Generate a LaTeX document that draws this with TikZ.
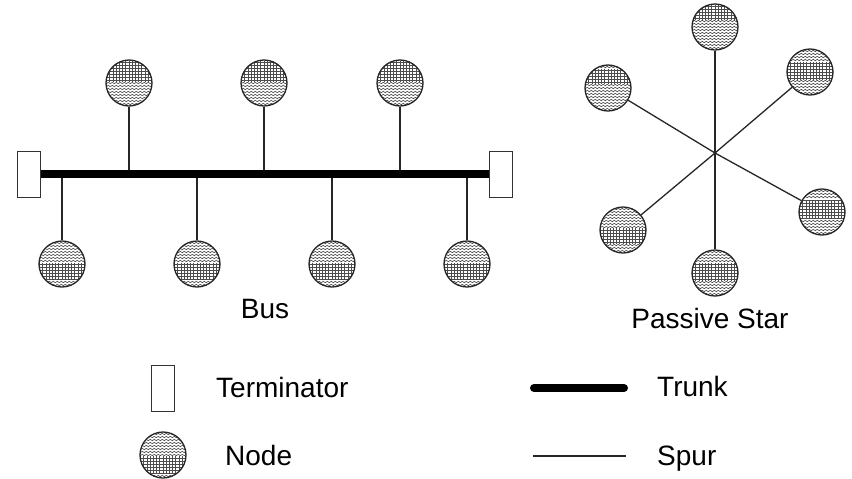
\documentclass[tikz,border=0pt]{standalone}
\usepackage{fontspec}
\setmainfont{Liberation Sans}
\usetikzlibrary{decorations.pathmorphing}
\begin{document}
\begin{tikzpicture}[x=1pt,y=-1pt,
  texture/.style={line width=0.65pt, draw=black!70},
  wave/.style={texture, decorate, decoration={snake, segment length=4pt, amplitude=0.7pt}},
  % a station: #1 and #2 bound the band that carries the dotted grid
  station/.style 2 args={circle, draw=black!85, line width=1.3pt,
    minimum size=46pt, inner sep=0pt, fill=white,
    path picture={
      \begin{scope}[shift={(path picture bounding box.center)}]
        \foreach \k in {-7,...,7}{
          \pgfmathsetmacro\yy{\k*3}
          \ifdim\yy pt<#1pt \draw[wave] (-26,\yy) -- (26,\yy);
          \else\ifdim\yy pt>#2pt \draw[wave] (-26,\yy) -- (26,\yy);
          \else \draw[texture] (-26,\yy) -- (26,\yy); \fi\fi }
        \foreach \k in {-7,...,7}
          \draw[texture] (\k*3.2,#1) -- (\k*3.2,#2);
      \end{scope}}},
  terminator/.style={draw=black!80, line width=1pt, minimum width=23pt,
    minimum height=46pt, inner sep=0pt, fill=white},
  trunk/.style={line width=8pt, draw=black},
  spur/.style={line width=1.3pt, draw=black!85},
  label/.style={font=\fontsize{28}{32}\selectfont, inner sep=0pt}
]
\useasboundingbox (0,0) rectangle (852,479);

% ---------- bus ----------
\node[terminator] (tl) at (28.5,174) {};
\node[terminator] (tr) at (500.5,174) {};

\coordinate (a1) at (129,174);
\coordinate (a2) at (264,174);
\coordinate (a3) at (400,174);
\coordinate (b1) at (62,174);
\coordinate (b2) at (197,174);
\coordinate (b3) at (332,174);
\coordinate (b4) at (467,174);

\node[station={-22}{-1}] (u1) at (129,83) {};
\node[station={-22}{-1}] (u2) at (264,83) {};
\node[station={-22}{-1}] (u3) at (400,83) {};
\node[station={-1}{16}] (d1) at (62,264) {};
\node[station={-1}{16}] (d2) at (197,264) {};
\node[station={-1}{16}] (d3) at (332,264) {};
\node[station={-1}{16}] (d4) at (467,264) {};

\draw[spur] (u1) -- (a1);
\draw[spur] (u2) -- (a2);
\draw[spur] (u3) -- (a3);
\draw[spur] (b1) -- (d1);
\draw[spur] (b2) -- (d2);
\draw[spur] (b3) -- (d3);
\draw[spur] (b4) -- (d4);
\draw[trunk] (tl.east) -- (tr.west);

\node[label, anchor=base] (bus) at (265,318) {Bus};

% ---------- passive star ----------
\coordinate (hub) at (715,153);
\node[station={-22}{-7}] (s1) at (715,27) {};
\node[station={-19}{-4}] (s2) at (608,88) {};
\node[station={-10}{8}]  (s3) at (810,72) {};
\node[station={-12}{6}]  (s4) at (822,212) {};
\node[station={-2}{14}]  (s5) at (623,230) {};
\node[station={-10}{8}]  (s6) at (715,273) {};
\foreach \s in {s1,s2,s3,s4,s5,s6}
  \draw[spur] (hub) -- (\s);

\node[label, anchor=base] (star) at (710,328) {Passive Star};

% ---------- legend ----------
\node[terminator] (lt) at (163,388.5) {};
\node[label, anchor=base west] (ltt) at (216,397) {Terminator};
\node[station={1}{18}] (ln) at (163,455) {};
\node[label, anchor=base west] (lnt) at (225,465) {Node};

\coordinate (k1) at (534,388);
\coordinate (k2) at (624,388);
\draw[trunk, line width=8pt, line cap=round] (k1) -- (k2);
\node[label, anchor=base west] (ktt) at (657,396) {Trunk};
\coordinate (p1) at (533,456);
\coordinate (p2) at (626,456);
\draw[spur, line width=1.2pt] (p1) -- (p2);
\node[label, anchor=base west] (ptt) at (657,465) {Spur};
\end{tikzpicture}
\end{document}
